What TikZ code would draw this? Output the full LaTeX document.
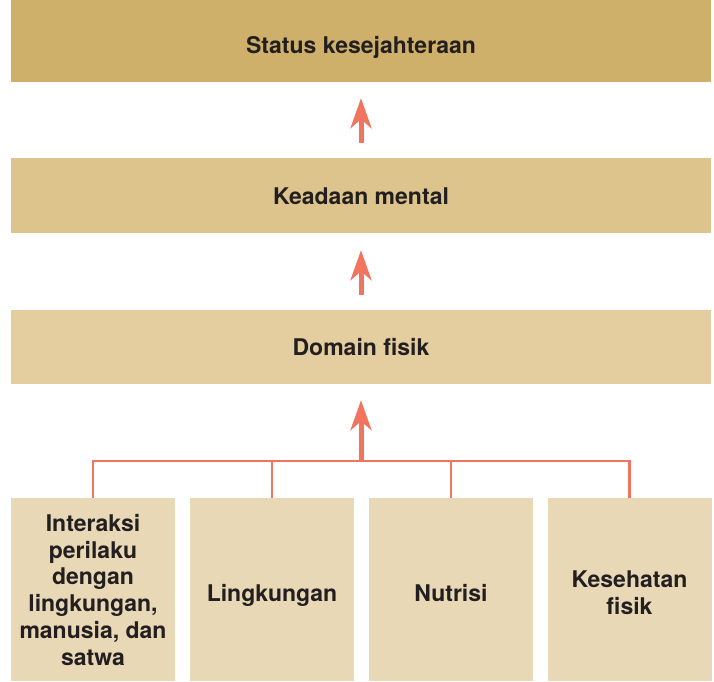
\documentclass[tikz,border=0pt]{standalone}
\usepackage{fontspec}
\setmainfont{TeX Gyre Heros}
\usetikzlibrary{arrows.meta}
\definecolor{boxA}{RGB}{207,176,106}
\definecolor{boxB}{RGB}{220,196,140}
\definecolor{boxC}{RGB}{228,206,160}
\definecolor{boxD}{RGB}{232,216,182}
\definecolor{arrc}{RGB}{240,116,94}
\definecolor{txt}{RGB}{35,31,32}
\tikzset{
  wide/.style={minimum width=700pt, inner sep=0pt, text=txt,
    font=\fontsize{23}{26.7}\selectfont\bfseries},
  small/.style={minimum width=164pt, minimum height=183pt, inner sep=0pt,
    text=txt, align=center, font=\fontsize{23}{26.7}\selectfont\bfseries, fill=boxD},
  hd/.style 2 args={text height=#1, text depth=#2},
  arr/.style={draw=arrc, line width=5pt,
    -{Stealth[length=30pt, width=21pt, inset=9pt]}},
  conn/.style={draw=arrc, line width=2.5pt}
}
\begin{document}
\begin{tikzpicture}[x=1pt,y=-1pt]
\useasboundingbox (0,0) rectangle (714,681);
\node[wide, fill=boxA, minimum height=82pt, hd={24.6pt}{0pt}] (stat) at (361,41) {Status kesejahteraan};
\node[wide, fill=boxB, minimum height=75pt, hd={17.6pt}{0pt}] (ment) at (361,195.5) {Keadaan mental};
\node[wide, fill=boxC, minimum height=74pt, hd={16pt}{0pt}] (dom) at (361,347) {Domain fisik};
\node[small, hd={151pt}{0pt}] (b1) at (93,589.5) {Interaksi\\perilaku\\dengan\\lingkungan,\\manusia, dan\\satwa};
\node[small, hd={24.4pt}{0pt}] (b2) at (272,589.5) {Lingkungan};
\node[small, hd={24.4pt}{0pt}] (b3) at (451,589.5) {Nutrisi};
\node[small, hd={49pt}{0pt}] (b4) at (629.5,589.5) {Kesehatan\\fisik};
\coordinate (bus) at (361,461);
\draw[arr, shorten <=15pt, shorten >=16pt] (ment.north) -- (stat.south);
\draw[arr, shorten <=15pt, shorten >=17pt] (dom.north) -- (ment.south);
\draw[conn] (b1.north) |- (b4.north |- bus) -- (b4.north);
\draw[conn] (b2.north) -- (b2.north |- bus);
\draw[conn] (b3.north) -- (b3.north |- bus);
\draw[arr, shorten >=16pt] (bus) -- (dom.south);
\end{tikzpicture}
\end{document}
